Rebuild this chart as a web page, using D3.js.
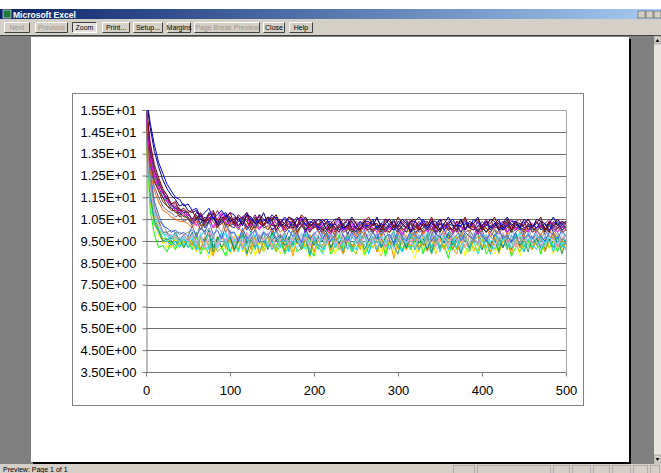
<!DOCTYPE html>
<html>
<head>
<meta charset="utf-8">
<script src="https://cdn.jsdelivr.net/npm/d3@7"></script>
<style>
  body { margin: 0; background: #fff; }
  svg { display: block; }
</style>
</head>
<body>
<div id="chart"></div>
<script>
// x categories: iteration number, read every 5 steps
var steps = d3.range(0, 501, 5);

var yTicks = [3.5, 4.5, 5.5, 6.5, 7.5, 8.5, 9.5, 10.5, 11.5, 12.5, 13.5, 14.5, 15.5];
var yTickLabels = ['3.50E+00', '4.50E+00', '5.50E+00', '6.50E+00', '7.50E+00', '8.50E+00', '9.50E+00',
    '1.05E+01', '1.15E+01', '1.25E+01', '1.35E+01', '1.45E+01', '1.55E+01'];
var xTicks = [0, 100, 200, 300, 400, 500];

// lower group of runs
var cyanRun = [15.0, 11.8, 10.9, 10.0, 9.9, 9.5, 9.8, 9.4, 9.7, 9.3, 9.6,
    9.7, 9.2, 9.1, 9.6, 9.8, 9.3, 9.5, 9.9, 9.4, 9.0,
    9.5, 9.7, 9.2, 9.3, 9.8, 9.6, 9.1, 9.4, 9.7, 9.5,
    9.0, 9.3, 9.7, 9.6, 9.2, 9.8, 9.4, 9.1, 9.5, 9.8,
    9.3, 8.9, 9.4, 9.7, 9.5, 9.1, 9.6, 9.8, 9.2, 9.4,
    9.7, 9.3, 9.0, 9.5, 9.8, 9.4, 9.2, 9.6, 9.9, 9.3,
    9.1, 9.5, 9.7, 9.2, 9.4, 9.8, 9.5, 9.0, 9.3, 9.7,
    9.6, 9.2, 9.4, 9.8, 9.1, 9.3, 9.7, 9.5, 8.9, 9.4,
    9.8, 9.5, 9.1, 9.3, 9.7, 9.6, 9.2, 9.5, 9.9, 9.3,
    9.2, 9.6, 9.8, 9.4, 9.0, 9.5, 9.7, 9.3, 9.4, 9.6];
var yellowRun = [14.1, 11.2, 10.4, 9.7, 9.6, 9.2, 9.4, 9.1, 9.5, 9.2, 9.4,
    9.6, 9.0, 9.5, 9.2, 8.7, 9.4, 9.7, 9.1, 9.5, 8.9,
    9.3, 9.8, 9.0, 9.4, 9.6, 8.8, 9.5, 9.2, 9.7, 9.1,
    9.4, 8.9, 9.6, 9.3, 9.0, 9.5, 9.8, 9.2, 8.7, 9.4,
    9.6, 9.1, 9.3, 9.7, 8.9, 9.4, 9.2, 9.6, 9.0, 9.5,
    9.3, 8.8, 9.6, 9.2, 9.5, 9.0, 9.7, 9.3, 8.9, 9.4,
    9.1, 9.6, 9.3, 8.7, 9.5, 9.2, 9.8, 9.0, 9.4, 9.3,
    9.7, 9.0, 9.4, 9.2, 9.6, 8.8, 9.5, 9.3, 9.1, 9.6,
    9.2, 9.5, 8.9, 9.4, 9.7, 9.1, 9.3, 9.6, 8.8, 9.4,
    9.5, 9.1, 9.6, 9.0, 9.4, 9.3, 8.9, 9.7, 9.2, 9.4];
var tealRun = [15.3, 12.3, 11.0, 10.4, 9.9, 9.9, 9.6, 9.9, 9.5, 9.8, 9.5,
    9.9, 9.3, 9.7, 9.5, 10.0, 9.2, 9.6, 9.8, 9.4, 9.7,
    9.1, 9.6, 9.9, 9.4, 9.7, 9.3, 9.8, 9.5, 9.2, 9.9,
    9.5, 9.7, 9.3, 9.6, 10.0, 9.4, 9.2, 9.8, 9.6, 9.3,
    9.7, 9.5, 9.9, 9.2, 9.6, 9.4, 9.8, 9.1, 9.7, 9.5,
    9.3, 9.8, 9.6, 9.4, 9.9, 9.2, 9.7, 9.5, 9.3, 9.8,
    9.6, 9.2, 9.7, 9.9, 9.4, 9.6, 9.1, 9.8, 9.5, 9.7,
    9.4, 9.9, 9.3, 9.6, 9.8, 9.5, 9.2, 9.7, 9.4, 10.0,
    9.5, 9.3, 9.8, 9.6, 9.2, 9.7, 9.5, 9.9, 9.3, 9.6,
    9.8, 9.4, 9.6, 9.2, 9.7, 9.5, 9.9, 9.3, 9.6, 9.5];
var greenRun = [14.5, 10.9, 9.8, 9.2, 9.3, 9.0, 9.5, 9.1, 9.6, 9.2, 9.5,
    9.1, 9.7, 8.9, 9.4, 9.8, 9.0, 9.5, 9.2, 8.8, 9.6,
    9.3, 9.1, 9.8, 8.9, 9.5, 9.2, 9.7, 9.0, 9.4, 9.9,
    9.1, 9.6, 8.9, 9.3, 9.7, 9.0, 9.2, 9.8, 9.1, 8.8,
    9.6, 9.2, 9.7, 8.9, 9.3, 9.8, 9.1, 9.5, 9.0, 9.4,
    9.7, 8.9, 9.2, 9.6, 9.1, 9.8, 8.8, 9.5, 9.2, 9.7,
    9.0, 9.4, 9.1, 9.5, 9.8, 8.9, 9.6, 9.2, 9.7, 9.1,
    9.3, 8.7, 9.6, 9.1, 9.7, 9.2, 9.0, 9.6, 9.3, 9.8,
    8.9, 9.2, 9.7, 9.1, 9.5, 9.6, 8.8, 9.2, 9.7, 9.0,
    9.5, 9.1, 9.6, 8.9, 9.7, 9.2, 9.5, 9.0, 9.6, 9.1];
var seaGreenRun = [15.0, 11.7, 10.4, 10.0, 9.5, 9.6, 9.5, 9.3, 9.6, 9.2, 9.6,
    9.3, 9.9, 9.1, 9.6, 9.8, 9.0, 9.7, 9.2, 9.5, 10.0,
    9.1, 9.5, 9.8, 8.9, 9.6, 9.2, 9.7, 9.9, 9.1, 9.6,
    9.2, 9.8, 9.0, 9.7, 9.3, 9.9, 9.1, 9.6, 8.9, 9.7,
    9.3, 9.2, 9.8, 9.1, 9.7, 9.4, 8.9, 9.8, 9.2, 9.6,
    9.9, 9.1, 9.5, 9.7, 9.0, 9.6, 9.2, 9.8, 9.3, 8.9,
    9.7, 9.2, 9.9, 9.1, 9.6, 9.3, 9.8, 9.0, 9.7, 9.2,
    9.6, 9.8, 9.1, 9.5, 8.9, 9.7, 9.2, 9.6, 9.9, 9.1,
    9.7, 9.2, 9.6, 9.0, 9.8, 9.3, 9.1, 9.7, 9.2, 9.6,
    9.0, 9.7, 9.3, 9.8, 9.1, 9.6, 9.2, 9.7, 8.9, 9.5];
var aquaRun = [15.2, 12.1, 10.7, 10.3, 9.8, 9.8, 9.5, 9.8, 9.4, 9.7, 9.4,
    9.8, 9.2, 9.7, 10.0, 9.1, 9.7, 9.3, 9.9, 9.2, 9.8,
    9.6, 9.0, 9.7, 9.3, 9.9, 9.1, 9.8, 9.6, 9.2, 9.7,
    10.0, 9.3, 9.7, 9.1, 9.8, 9.6, 9.2, 9.9, 9.3, 9.7,
    9.1, 9.8, 9.4, 10.0, 9.2, 9.7, 9.3, 9.8, 9.0, 9.7,
    9.4, 9.9, 9.2, 9.7, 9.1, 9.8, 9.3, 9.6, 10.0, 9.2,
    9.7, 9.3, 9.8, 9.1, 9.7, 9.4, 9.9, 9.2, 9.7, 9.0,
    9.8, 9.3, 9.7, 9.2, 9.9, 9.6, 9.1, 9.7, 9.3, 9.8,
    9.2, 9.7, 10.0, 9.3, 9.6, 9.1, 9.8, 9.3, 9.7, 9.2,
    9.9, 9.4, 9.1, 9.7, 9.3, 9.8, 9.2, 9.7, 9.4, 9.1];
var skyRun = [14.7, 11.5, 10.3, 9.9, 9.5, 9.5, 9.3, 9.5, 9.2, 9.6, 9.2,
    9.6, 9.1, 9.8, 9.3, 8.9, 9.7, 9.2, 9.6, 9.9, 9.0,
    9.5, 9.7, 9.1, 9.6, 9.2, 9.8, 8.9, 9.5, 9.7, 9.1,
    9.6, 9.2, 9.8, 9.0, 9.5, 9.7, 9.2, 9.6, 8.8, 9.5,
    9.7, 9.1, 9.4, 9.8, 9.2, 9.5, 9.0, 9.7, 9.3, 9.1,
    9.6, 9.8, 8.9, 9.5, 9.7, 9.2, 9.6, 9.1, 9.8, 9.3,
    9.0, 9.6, 9.2, 9.7, 9.1, 9.5, 9.8, 8.9, 9.6, 9.2,
    9.7, 9.1, 9.5, 9.6, 9.0, 9.8, 9.2, 9.5, 9.7, 9.1,
    9.6, 8.9, 9.5, 9.7, 9.2, 9.6, 9.1, 9.8, 9.3, 9.0,
    9.6, 9.2, 9.7, 9.1, 9.5, 9.6, 9.0, 9.7, 9.2, 9.5];
var limeRun = [14.8, 11.8, 10.5, 10.1, 9.6, 9.6, 9.3, 9.7, 9.3, 9.6, 9.2,
    9.4, 9.7, 9.6, 9.1, 9.3, 9.7, 9.0, 9.2, 9.6, 9.5,
    9.1, 9.4, 9.8, 9.3, 8.9, 9.5, 9.6, 9.2, 9.7, 9.4,
    9.0, 9.6, 9.3, 9.2, 9.7, 9.5, 9.1, 9.3, 9.8, 9.4,
    9.2, 9.0, 9.6, 9.7, 9.3, 9.1, 9.5, 9.7, 9.2, 8.9,
    9.5, 9.7, 9.3, 9.2, 9.6, 9.4, 9.0, 9.6, 9.7, 9.2,
    9.4, 9.1, 9.7, 9.5, 9.2, 9.6, 9.3, 8.9, 9.5, 9.7,
    9.2, 9.4, 9.6, 9.1, 9.3, 9.8, 9.4, 9.2, 9.0, 9.6,
    9.7, 9.3, 9.1, 9.5, 9.6, 9.2, 9.7, 9.4, 9.0, 9.5,
    9.3, 9.7, 9.4, 9.1, 9.6, 9.5, 9.2, 9.8, 9.3, 9.4];
var orangeRun = [15.4, 12.5, 11.0, 10.5, 9.9, 9.9, 9.6, 9.7, 9.6, 9.4, 9.7,
    9.3, 9.8, 9.1, 9.7, 9.3, 8.8, 9.6, 9.8, 9.2, 9.7,
    9.0, 9.6, 9.3, 9.8, 9.1, 9.7, 8.9, 9.5, 9.7, 9.2,
    9.6, 9.8, 9.1, 9.5, 8.8, 9.7, 9.2, 9.6, 9.8, 9.0,
    9.6, 9.2, 9.7, 9.1, 9.8, 9.3, 8.9, 9.6, 9.2, 9.7,
    9.1, 9.8, 9.3, 9.6, 9.0, 9.7, 9.2, 9.6, 8.7, 9.5,
    9.7, 9.1, 9.6, 9.8, 9.2, 9.5, 9.0, 9.7, 9.3, 9.6,
    9.1, 9.7, 9.2, 8.9, 9.6, 9.8, 9.1, 9.5, 9.7, 9.2,
    9.6, 9.0, 9.7, 9.3, 9.2, 9.8, 8.9, 9.6, 9.2, 9.7,
    9.3, 9.1, 9.6, 9.8, 9.0, 9.5, 9.7, 9.2, 9.6, 9.1];
var goldRun = [14.4, 11.4, 10.2, 9.9, 9.4, 9.5, 9.2, 9.6, 9.3, 9.5, 9.3,
    9.5, 9.0, 9.7, 9.3, 9.6, 8.9, 9.4, 9.8, 9.1, 9.5,
    9.7, 9.2, 9.4, 8.8, 9.6, 9.3, 9.8, 9.0, 9.5, 9.3,
    9.1, 9.7, 9.4, 9.6, 9.0, 9.5, 9.8, 9.2, 9.6, 8.9,
    9.5, 9.3, 9.7, 9.0, 9.6, 9.2, 9.5, 9.8, 9.1, 9.4,
    9.6, 9.0, 9.3, 9.7, 9.2, 8.8, 9.6, 9.4, 9.7, 9.1,
    9.5, 9.8, 9.2, 9.4, 9.0, 9.7, 9.3, 9.6, 8.9, 9.5,
    9.3, 9.6, 9.1, 9.7, 9.4, 9.2, 9.8, 9.0, 9.5, 9.6,
    9.1, 9.4, 9.7, 8.9, 9.5, 9.3, 9.6, 9.2, 9.7, 9.0,
    9.6, 9.3, 9.5, 9.1, 9.8, 9.2, 9.4, 9.7, 9.0, 9.5];
var paleBlueRun = [15.1, 12.0, 10.8, 10.2, 9.9, 9.7, 9.7, 9.6, 9.5, 9.7, 9.4,
    9.7, 9.3, 9.9, 9.2, 9.6, 9.8, 9.1, 9.7, 9.4, 9.9,
    9.3, 9.7, 9.5, 9.1, 9.8, 9.4, 9.6, 10.0, 9.3, 9.7,
    9.2, 9.6, 9.8, 9.4, 9.7, 9.1, 9.9, 9.5, 9.3, 9.8,
    9.6, 9.2, 9.7, 9.9, 9.3, 9.6, 9.5, 9.1, 9.8, 9.4,
    9.7, 9.3, 9.9, 9.5, 9.2, 9.7, 9.4, 9.8, 9.1, 9.6,
    9.9, 9.4, 9.6, 9.2, 9.8, 9.5, 9.3, 9.7, 10.0, 9.3,
    9.6, 9.2, 9.8, 9.5, 9.1, 9.7, 9.4, 9.9, 9.3, 9.6,
    9.8, 9.4, 9.2, 9.7, 9.5, 9.9, 9.2, 9.6, 9.4, 9.8,
    9.3, 9.7, 9.5, 9.1, 9.8, 9.4, 9.6, 9.3, 9.9, 9.5];
var roseRun = [14.9, 12.0, 10.9, 10.3, 10.0, 9.8, 9.8, 9.7, 9.6, 9.8, 9.5,
    9.8, 9.4, 9.7, 9.2, 9.9, 9.6, 9.3, 9.8, 9.5, 10.0,
    9.4, 9.7, 9.2, 9.9, 9.6, 9.3, 9.8, 9.5, 9.9, 9.2,
    9.7, 9.5, 9.9, 9.3, 9.6, 10.0, 9.4, 9.7, 9.2, 9.8,
    9.5, 9.9, 9.3, 9.7, 9.6, 9.2, 9.8, 9.4, 10.0, 9.6,
    9.3, 9.8, 9.6, 9.4, 9.9, 9.5, 9.2, 9.7, 9.6, 9.9,
    9.4, 9.7, 9.3, 9.8, 9.5, 10.0, 9.4, 9.6, 9.2, 9.8,
    9.6, 9.3, 9.9, 9.5, 9.7, 9.2, 9.8, 9.6, 9.4, 9.9,
    9.5, 9.8, 9.3, 9.6, 9.9, 9.4, 9.7, 9.2, 9.8, 9.5,
    9.7, 9.4, 9.9, 9.3, 9.6, 9.8, 9.5, 9.2, 9.7, 9.6];
var grayRun = [15.0, 12.2, 11.1, 10.4, 10.3, 9.9, 10.0, 9.9, 9.9, 9.8, 9.9,
    10.0, 9.7, 10.3, 9.8, 10.1, 9.6, 10.2, 9.9, 10.4, 9.8,
    9.9, 9.5, 10.0, 9.7, 9.4, 10.1, 9.6, 9.9, 9.8, 9.5,
    10.0, 9.6, 9.9, 9.4, 10.1, 9.7, 9.5, 10.0, 9.6, 9.9,
    9.7, 10.2, 9.5, 9.8, 9.6, 10.0, 9.4, 9.9, 9.7, 10.1,
    9.5, 9.9, 9.7, 10.0, 9.4, 9.8, 10.1, 9.6, 9.9, 9.5,
    10.0, 9.6, 9.9, 9.5, 10.1, 9.7, 9.6, 10.0, 9.4, 9.9,
    9.7, 10.1, 9.5, 9.8, 10.0, 9.6, 9.9, 9.4, 10.0, 9.7,
    9.6, 9.9, 10.1, 9.5, 9.8, 9.6, 10.0, 9.7, 9.4, 9.9,
    10.1, 9.6, 9.8, 9.5, 10.0, 9.7, 9.6, 9.9, 9.5, 9.8];
var royalRun = [15.5, 12.7, 11.3, 10.7, 10.2, 10.1, 9.9, 10.0, 9.8, 9.9, 9.7,
    10.2, 9.7, 10.1, 9.9, 10.4, 9.8, 10.0, 9.6, 10.2, 9.9,
    9.9, 9.5, 10.1, 9.6, 9.8, 10.0, 9.4, 9.9, 9.7, 10.1,
    9.6, 9.8, 9.5, 10.0, 9.7, 9.9, 9.4, 10.1, 9.6, 9.8,
    10.0, 9.6, 9.9, 9.5, 9.8, 10.2, 9.7, 9.5, 9.9, 9.6,
    9.8, 10.0, 9.5, 9.9, 9.6, 10.1, 9.7, 9.8, 9.4, 10.0,
    9.7, 9.5, 10.0, 9.8, 9.6, 9.9, 10.1, 9.5, 9.8, 9.7,
    10.0, 9.6, 9.8, 10.1, 9.5, 9.9, 9.7, 9.6, 10.0, 9.8,
    9.5, 9.9, 9.7, 10.0, 9.6, 9.8, 9.4, 9.9, 10.1, 9.6,
    9.8, 9.6, 10.0, 9.7, 9.5, 9.9, 9.8, 9.6, 10.0, 9.7];

// upper group of runs
var orangeRedRun = [14.9, 12.7, 11.8, 11.3, 10.9, 10.8, 10.6, 10.5, 10.4, 10.4, 10.3,
    10.1, 10.4, 10.0, 10.3, 10.5, 10.1, 10.2, 10.4, 9.9, 10.3,
    10.4, 10.1, 9.9, 10.3, 10.2, 10.0, 10.4, 10.1, 10.2, 9.9,
    10.2, 9.9, 10.1, 10.3, 10.0, 9.8, 10.2, 10.1, 9.9, 10.3,
    9.9, 10.0, 9.7, 10.1, 9.8, 10.2, 9.9, 10.0, 10.1, 9.7,
    10.0, 9.8, 10.2, 9.9, 10.1, 9.7, 10.0, 9.9, 10.2, 9.8,
    10.1, 9.9, 10.0, 9.7, 10.2, 9.8, 10.1, 10.0, 9.9, 10.1,
    9.8, 10.2, 9.9, 10.0, 9.7, 10.1, 9.9, 10.2, 9.8, 10.0,
    10.1, 9.7, 10.0, 9.9, 10.2, 9.8, 10.0, 10.1, 9.9, 9.7,
    10.2, 9.9, 10.0, 9.8, 10.1, 10.0, 9.7, 10.1, 9.9, 10.0];
var blueGrayRun = [15.2, 12.9, 12.0, 11.5, 11.1, 10.9, 10.8, 10.6, 10.7, 10.4, 10.5,
    10.2, 10.5, 10.0, 10.4, 10.3, 10.6, 10.1, 10.3, 10.5, 10.2,
    10.3, 10.0, 10.4, 10.2, 9.9, 10.3, 10.5, 10.1, 10.2, 10.4,
    9.9, 10.2, 10.0, 10.3, 10.1, 9.9, 10.2, 10.4, 10.0, 10.1,
    10.2, 9.8, 10.0, 10.1, 9.7, 10.2, 9.9, 10.1, 10.0, 9.8,
    10.1, 10.3, 9.9, 10.0, 10.2, 9.8, 10.1, 9.9, 10.2, 10.0,
    9.7, 10.1, 10.0, 10.2, 9.9, 10.0, 10.3, 9.8, 10.1, 9.9,
    10.2, 10.0, 9.8, 10.1, 10.2, 9.9, 10.0, 9.7, 10.2, 10.1,
    9.9, 10.2, 10.0, 9.8, 10.1, 10.3, 9.9, 10.0, 10.2, 9.8,
    10.0, 10.1, 9.9, 10.2, 9.8, 10.0, 10.1, 10.2, 9.9, 10.0];
var oliveRun = [15.4, 13.1, 12.3, 11.8, 11.5, 11.1, 11.0, 10.8, 10.8, 10.6, 10.6,
    10.3, 10.5, 10.7, 10.2, 10.4, 10.6, 10.3, 10.5, 10.2, 10.6,
    10.3, 10.2, 10.5, 10.4, 10.1, 10.6, 10.3, 10.2, 10.4, 10.5,
    10.0, 10.3, 10.2, 10.4, 10.1, 10.2, 10.5, 10.0, 10.3, 10.1,
    10.3, 10.1, 9.9, 10.2, 10.0, 10.3, 10.1, 10.2, 9.9, 10.1,
    10.0, 10.4, 10.1, 10.0, 10.2, 9.9, 10.3, 10.1, 10.0, 10.2,
    10.1, 9.9, 10.3, 10.2, 10.0, 10.1, 10.4, 10.0, 10.2, 9.9,
    10.3, 10.1, 10.0, 10.2, 9.9, 10.3, 10.1, 10.2, 10.0, 10.1,
    9.9, 10.2, 10.3, 10.0, 10.1, 10.2, 9.9, 10.3, 10.1, 10.0,
    10.2, 10.0, 10.1, 10.3, 9.9, 10.2, 10.0, 10.1, 10.3, 10.1];
var indigoRun = [15.5, 13.4, 12.5, 12.0, 11.5, 11.3, 11.0, 11.0, 10.7, 10.8, 10.6,
    10.3, 10.6, 10.5, 10.1, 10.4, 10.6, 10.2, 10.3, 10.6, 10.2,
    10.1, 10.4, 10.4, 10.0, 10.3, 10.5, 10.1, 10.2, 10.4, 10.0,
    10.2, 10.3, 9.9, 10.1, 10.4, 10.0, 10.2, 10.3, 9.9, 10.2,
    10.1, 9.9, 10.2, 10.3, 10.0, 10.1, 10.3, 9.8, 10.2, 10.1,
    10.0, 10.3, 10.1, 9.9, 10.2, 10.2, 10.0, 10.3, 10.1, 9.9,
    10.2, 10.1, 10.3, 9.9, 10.0, 10.3, 10.1, 10.2, 9.8, 10.1,
    10.3, 10.0, 10.1, 10.2, 9.9, 10.3, 10.1, 10.0, 10.2, 10.2,
    9.9, 10.1, 10.3, 10.0, 10.2, 9.9, 10.1, 10.3, 10.0, 10.1,
    10.2, 9.9, 10.1, 10.2, 10.0, 10.3, 9.9, 10.1, 10.2, 10.0];
var brownRun = [15.1, 13.1, 12.2, 11.8, 11.3, 11.1, 10.9, 10.9, 10.6, 10.7, 10.5,
    10.4, 10.6, 10.2, 10.3, 10.6, 10.4, 10.1, 10.5, 10.3, 10.2,
    10.4, 10.1, 10.3, 10.5, 10.0, 10.2, 10.4, 10.3, 10.0, 10.3,
    10.2, 10.4, 10.0, 10.1, 10.3, 9.9, 10.2, 10.3, 10.0, 10.1,
    10.3, 10.0, 10.1, 10.3, 9.9, 10.2, 10.2, 10.0, 10.4, 10.1,
    9.9, 10.2, 10.3, 10.0, 10.1, 10.3, 10.0, 9.9, 10.2, 10.3,
    10.0, 10.1, 10.4, 10.0, 10.2, 9.9, 10.1, 10.3, 10.1, 10.0,
    10.2, 10.3, 9.9, 10.1, 10.2, 10.0, 10.3, 10.1, 9.9, 10.2,
    10.1, 9.9, 10.2, 10.3, 10.0, 10.1, 10.3, 10.0, 10.2, 9.9,
    10.3, 10.1, 10.0, 10.2, 10.1, 9.9, 10.2, 10.3, 10.0, 10.1];
var magentaRun = [15.3, 13.2, 12.5, 11.9, 11.7, 11.3, 11.2, 10.9, 10.9, 10.7, 10.7,
    10.5, 10.2, 10.7, 10.4, 10.6, 10.1, 10.5, 10.8, 10.3, 10.4,
    10.5, 10.1, 10.4, 10.6, 10.2, 10.3, 10.0, 10.5, 10.4, 10.2,
    10.5, 10.2, 10.0, 10.3, 10.4, 10.1, 10.6, 10.2, 10.0, 10.3,
    10.0, 10.3, 10.1, 9.8, 10.2, 10.4, 10.0, 10.1, 10.3, 9.9,
    10.2, 10.0, 10.4, 10.1, 9.9, 10.3, 10.2, 10.0, 10.4, 10.1,
    9.8, 10.2, 10.1, 10.3, 10.0, 10.4, 9.9, 10.2, 10.1, 10.3,
    10.0, 10.2, 9.9, 10.4, 10.1, 10.0, 10.3, 10.2, 9.8, 10.1,
    10.3, 10.0, 10.2, 10.1, 10.4, 9.9, 10.2, 10.0, 10.3, 10.1,
    9.9, 10.3, 10.1, 10.2, 10.0, 10.4, 10.1, 9.9, 10.2, 10.0];
var darkTealRun = [15.8, 13.6, 12.8, 12.1, 11.8, 11.4, 11.2, 11.0, 11.0, 10.8, 10.8,
    10.5, 10.7, 10.3, 10.6, 10.4, 10.8, 10.2, 10.5, 10.7, 10.4,
    10.5, 10.2, 10.4, 10.7, 10.3, 10.1, 10.5, 10.4, 10.6, 10.2,
    10.2, 10.5, 10.3, 10.1, 10.4, 10.6, 10.2, 10.0, 10.3, 10.5,
    10.0, 10.2, 10.4, 10.1, 10.3, 10.0, 10.2, 10.5, 10.1, 9.9,
    10.3, 10.1, 10.2, 10.4, 10.0, 10.3, 10.1, 10.2, 10.5, 10.0,
    10.2, 10.4, 9.9, 10.1, 10.3, 10.2, 10.0, 10.4, 10.1, 10.3,
    10.1, 10.3, 10.2, 10.0, 10.5, 10.1, 10.2, 10.3, 9.9, 10.2,
    10.4, 10.0, 10.2, 10.3, 10.1, 10.4, 10.0, 10.2, 10.3, 10.1,
    10.2, 10.1, 10.4, 10.0, 10.2, 10.3, 10.1, 10.4, 10.0, 10.2];
var purpleRun = [15.6, 13.7, 12.7, 12.2, 11.7, 11.5, 11.1, 11.1, 10.8, 10.9, 10.7,
    10.5, 10.8, 10.7, 10.3, 10.5, 10.8, 10.2, 10.4, 10.7, 10.6,
    10.2, 10.5, 10.6, 10.1, 10.4, 10.7, 10.3, 10.2, 10.6, 10.4,
    10.0, 10.4, 10.5, 10.1, 10.1, 10.5, 10.3, 9.9, 10.3, 10.5,
    10.2, 10.0, 10.4, 10.4, 10.1, 9.9, 10.3, 10.5, 10.0, 10.2,
    10.4, 10.1, 10.0, 10.3, 10.5, 10.2, 9.9, 10.2, 10.4, 10.1,
    10.3, 10.5, 10.0, 10.1, 10.4, 10.2, 10.2, 10.5, 9.9, 10.3,
    10.1, 10.4, 10.3, 9.9, 10.2, 10.5, 10.1, 10.0, 10.4, 10.2,
    10.5, 10.1, 10.2, 10.4, 10.0, 10.3, 10.5, 10.1, 10.2, 10.4,
    10.0, 10.2, 10.4, 10.1, 10.3, 9.9, 10.4, 10.2, 10.1, 10.3];
var plumRun = [15.7, 13.9, 12.8, 12.3, 11.8, 11.6, 11.2, 11.2, 10.9, 10.9, 10.8,
    10.4, 10.8, 10.7, 10.3, 10.7, 10.5, 10.9, 10.5, 10.6, 10.3,
    10.6, 10.5, 10.3, 10.7, 10.4, 10.5, 10.6, 10.2, 10.4, 10.6,
    10.3, 10.5, 10.2, 10.4, 10.4, 10.6, 10.2, 10.5, 10.3, 10.2,
    10.5, 10.2, 10.3, 10.4, 10.1, 10.2, 10.5, 10.3, 10.0, 10.4,
    10.2, 10.5, 10.1, 10.3, 10.3, 10.0, 10.4, 10.5, 10.2, 10.1,
    10.4, 10.2, 10.5, 10.1, 10.2, 10.4, 10.4, 10.0, 10.3, 10.5,
    10.1, 10.3, 10.4, 10.2, 10.5, 10.1, 10.3, 10.3, 10.0, 10.4,
    10.2, 10.5, 10.1, 10.2, 10.4, 10.3, 10.0, 10.4, 10.5, 10.1,
    10.3, 10.2, 10.4, 10.1, 10.3, 10.5, 10.2, 10.1, 10.4, 10.2];
var blueRun = [16.3, 14.9, 13.9, 13.1, 12.6, 12.1, 11.8, 11.5, 11.4, 11.1, 11.2,
    10.9, 11.0, 10.6, 10.8, 11.0, 10.5, 10.7, 10.9, 10.6, 10.8,
    10.7, 10.4, 10.6, 10.8, 10.5, 10.3, 10.7, 10.5, 10.4, 10.7,
    10.5, 10.3, 10.6, 10.4, 10.2, 10.5, 10.6, 10.2, 10.4, 10.3,
    10.1, 10.4, 10.5, 10.2, 10.3, 10.5, 10.0, 10.3, 10.4, 10.1,
    10.4, 10.2, 10.2, 10.5, 10.1, 10.3, 10.5, 10.2, 10.0, 10.4,
    10.3, 10.1, 10.4, 10.4, 10.2, 10.5, 10.1, 10.3, 10.2, 10.5,
    10.0, 10.3, 10.5, 10.2, 10.2, 10.4, 10.1, 10.5, 10.3, 10.2,
    10.4, 10.1, 10.3, 10.5, 10.0, 10.2, 10.4, 10.4, 10.1, 10.3,
    10.5, 10.2, 10.1, 10.4, 10.3, 10.0, 10.3, 10.5, 10.2, 10.4];
var navyRun = [16.1, 14.7, 13.6, 12.9, 12.3, 11.9, 11.6, 11.4, 11.1, 11.2, 10.9,
    10.8, 10.9, 10.5, 10.4, 10.8, 10.6, 10.3, 10.7, 10.8, 10.4,
    10.5, 10.6, 10.2, 10.7, 10.6, 10.3, 10.4, 10.8, 10.3, 10.5,
    10.6, 10.2, 10.3, 10.6, 10.5, 10.1, 10.4, 10.6, 10.2, 10.3,
    10.5, 10.4, 10.0, 10.3, 10.5, 10.5, 10.1, 10.2, 10.6, 10.3,
    10.0, 10.4, 10.4, 10.2, 10.6, 10.1, 10.3, 10.5, 10.2, 10.2,
    10.5, 10.3, 9.9, 10.4, 10.6, 10.3, 10.1, 10.4, 10.4, 10.0,
    10.3, 10.6, 10.2, 10.2, 10.5, 10.0, 10.4, 10.3, 10.6, 10.1,
    10.2, 10.5, 10.4, 10.0, 10.3, 10.6, 10.2, 10.4, 10.1, 10.5,
    10.3, 10.1, 10.5, 10.4, 10.0, 10.3, 10.6, 10.2, 10.4, 10.3];
var darkRedRun = [15.9, 14.0, 13.0, 12.4, 11.9, 11.6, 11.2, 11.3, 10.9, 11.0, 10.8,
    10.9, 10.5, 10.8, 10.4, 10.7, 10.9, 10.4, 10.6, 10.5, 10.8,
    10.3, 10.7, 10.5, 10.8, 10.3, 10.4, 10.7, 10.2, 10.6, 10.5,
    10.7, 10.3, 10.1, 10.6, 10.4, 10.2, 10.7, 10.5, 10.1, 10.4,
    10.2, 10.5, 10.3, 9.9, 10.4, 10.6, 10.2, 10.1, 10.5, 10.3,
    10.0, 10.4, 10.6, 10.2, 10.3, 10.0, 10.5, 10.4, 10.1, 10.6,
    10.3, 10.1, 10.4, 10.5, 10.0, 10.3, 10.2, 10.6, 10.1, 10.4,
    10.5, 10.2, 10.0, 10.4, 10.3, 10.6, 10.1, 10.3, 10.5, 10.0,
    10.4, 10.3, 10.6, 10.1, 10.2, 10.5, 10.0, 10.4, 10.3, 10.2,
    10.5, 10.1, 10.3, 10.6, 10.0, 10.4, 10.2, 10.5, 10.3, 10.4];

var runs = [yellowRun, cyanRun, greenRun, goldRun, limeRun, skyRun, seaGreenRun, orangeRun, tealRun, aquaRun,
    paleBlueRun, roseRun, grayRun, royalRun,
    orangeRedRun, blueGrayRun, oliveRun, indigoRun, brownRun, magentaRun, darkTealRun, purpleRun, plumRun,
    blueRun, navyRun, darkRedRun];
var runColors = ['#ffff00', '#00ffff', '#00ff00', '#ffcc00', '#99cc00', '#00ccff', '#339966', '#ff9900', '#008080', '#33cccc',
    '#99ccff', '#ff99cc', '#969696', '#3366ff',
    '#ff6600', '#666699', '#333300', '#333399', '#993300', '#ff00ff', '#003366', '#800080', '#993366',
    '#0000ff', '#000080', '#800000'];

var W = 661, H = 473;
var svg = d3.select('#chart').append('svg').attr('width', W).attr('height', H);

// ---- window chrome ----
var defs = svg.append('defs');
var grad = defs.append('linearGradient').attr('id', 'title');
grad.append('stop').attr('offset', '0%').attr('stop-color', '#0a246a');
grad.append('stop').attr('offset', '100%').attr('stop-color', '#a6caf0');

svg.append('rect').attr('width', W).attr('height', H).attr('fill', '#808080');
svg.append('rect').attr('width', W).attr('height', 9).attr('fill', '#fff');
svg.append('rect').attr('y', 9).attr('width', W).attr('height', 10).attr('fill', 'url(#title)');
svg.append('rect').attr('x', 3).attr('y', 10).attr('width', 8).attr('height', 8).attr('fill', '#1e7a3a').attr('stroke', '#fff').attr('stroke-width', 0.6);
svg.append('text').attr('x', 13).attr('y', 17.5).text('Microsoft Excel')
    .attr('font-family', 'Liberation Sans, Arial').attr('font-weight', 'bold').attr('font-size', 8.5).attr('fill', '#fff');
[0, 1, 2].forEach(function(i) {
    svg.append('rect').attr('x', 638 + i * 8).attr('y', 11).attr('width', 7).attr('height', 7)
        .attr('fill', '#d4d0c8').attr('stroke', '#404040').attr('stroke-width', 0.5);
});

svg.append('rect').attr('y', 19).attr('width', W).attr('height', 16).attr('fill', '#d4d0c8');
svg.append('line').attr('x1', 0).attr('x2', W).attr('y1', 35.5).attr('y2', 35.5).attr('stroke', '#404040');

var buttons = [
    {t: 'Next', x: 4, w: 26, off: true}, {t: 'Previous', x: 35, w: 33, off: true},
    {t: 'Zoom', x: 72, w: 25, down: true}, {t: 'Print...', x: 102, w: 28}, {t: 'Setup...', x: 133, w: 30},
    {t: 'Margins', x: 167, w: 24}, {t: 'Page Break Preview', x: 194, w: 66, off: true},
    {t: 'Close', x: 263, w: 22}, {t: 'Help', x: 289, w: 24}
];
buttons.forEach(function(b) {
    var g = svg.append('g').attr('transform', 'translate(' + b.x + ',22)');
    g.append('rect').attr('width', b.w).attr('height', 11).attr('fill', b.down ? '#e4e2dc' : '#d4d0c8');
    g.append('path').attr('d', 'M0.5,10.5V0.5H' + (b.w - 0.5)).attr('fill', 'none').attr('stroke', b.down ? '#404040' : '#fff');
    g.append('path').attr('d', 'M0.5,10.5H' + (b.w - 0.5) + 'V0.5').attr('fill', 'none').attr('stroke', b.down ? '#fff' : '#404040');
    g.append('text').attr('x', b.w / 2).attr('y', 8.2).attr('text-anchor', 'middle').text(b.t)
        .attr('font-family', 'Liberation Sans, Arial').attr('font-size', 7)
        .attr('fill', b.off ? '#9a978f' : '#000');
});

// page
svg.append('rect').attr('x', 33).attr('y', 39).attr('width', 598).attr('height', 425).attr('fill', '#000');
svg.append('rect').attr('x', 31).attr('y', 37).attr('width', 598).attr('height', 425).attr('fill', '#fff');

// scrollbar
svg.append('rect').attr('x', 654).attr('y', 36).attr('width', 7).attr('height', 428).attr('fill', '#e8e6e0');
svg.append('rect').attr('x', 654).attr('y', 36).attr('width', 7).attr('height', 8).attr('fill', '#d4d0c8').attr('stroke', '#808080').attr('stroke-width', 0.5);
svg.append('rect').attr('x', 654).attr('y', 455).attr('width', 7).attr('height', 8).attr('fill', '#d4d0c8').attr('stroke', '#808080').attr('stroke-width', 0.5);
svg.append('path').attr('d', 'M655.5,42 L657.5,39 L659.5,42Z').attr('fill', '#000');
svg.append('path').attr('d', 'M655.5,458 L657.5,461 L659.5,458Z').attr('fill', '#000');

// status bar
svg.append('rect').attr('y', 464).attr('width', W).attr('height', 9).attr('fill', '#d4d0c8');
svg.append('text').attr('x', 3).attr('y', 472).text('Preview: Page 1 of 1')
    .attr('font-family', 'Liberation Sans, Arial').attr('font-size', 7).attr('fill', '#000');
[453, 477, 553, 572, 593, 612, 633, 650].forEach(function(px, i, a) {
    var nx = i < a.length - 1 ? a[i + 1] - 2 : 660;
    svg.append('rect').attr('x', px + 0.5).attr('y', 465.5).attr('width', nx - px - 1).attr('height', 8)
        .attr('fill', 'none').attr('stroke', '#a0a0a0').attr('stroke-width', 0.7);
});

// ---- chart ----
var chartFont = 'Liberation Sans, Arial, sans-serif';
svg.append('rect').attr('x', 72.5).attr('y', 93.5).attr('width', 511).attr('height', 312)
    .attr('fill', '#fff').attr('stroke', '#808080');

var x = d3.scaleLinear().domain([0, 500]).range([146, 566]);
var y = d3.scaleLinear().domain([3.5, 15.5]).range([372, 110]);

// gridlines
svg.append('g').selectAll('line').data(yTicks.slice(1, -1)).enter().append('line')
    .attr('x1', 146).attr('x2', 566)
    .attr('y1', function(d) { return Math.round(y(d)) + 0.5; })
    .attr('y2', function(d) { return Math.round(y(d)) + 0.5; })
    .attr('stroke', '#6e6e6e');

// plot border (top/right)
svg.append('path').attr('d', 'M146,110.5H566.5V372').attr('fill', 'none').attr('stroke', '#a6a6a6');

defs.append('clipPath').attr('id', 'plot').append('rect')
    .attr('x', 146).attr('y', 110).attr('width', 420).attr('height', 262);

var line = d3.line()
    .x(function(d, i) { return x(steps[i]); })
    .y(function(d) { return y(d); });

svg.append('g').attr('clip-path', 'url(#plot)')
    .selectAll('path').data(runs).enter().append('path')
    .attr('d', line)
    .attr('fill', 'none')
    .attr('stroke', function(d, i) { return runColors[i]; })
    .attr('stroke-width', 1);

// axes
var yAxis = svg.append('g').attr('transform', 'translate(146.5,0)')
    .call(d3.axisLeft(y).tickValues(yTicks).tickSize(4).tickPadding(6)
        .tickFormat(function(d, i) { return yTickLabels[i]; }));
var xAxis = svg.append('g').attr('transform', 'translate(0,372.5)')
    .call(d3.axisBottom(x).tickValues(xTicks).tickSize(4).tickPadding(9));

[yAxis, xAxis].forEach(function(a) {
    a.select('.domain').attr('stroke', '#7a7a7a');
    a.selectAll('.tick line').attr('stroke', '#7a7a7a');
    a.selectAll('text').attr('font-family', chartFont).attr('font-size', 13).attr('fill', '#000');
});
xAxis.select('.domain').attr('d', 'M146,0H566');
</script>
</body>
</html>
